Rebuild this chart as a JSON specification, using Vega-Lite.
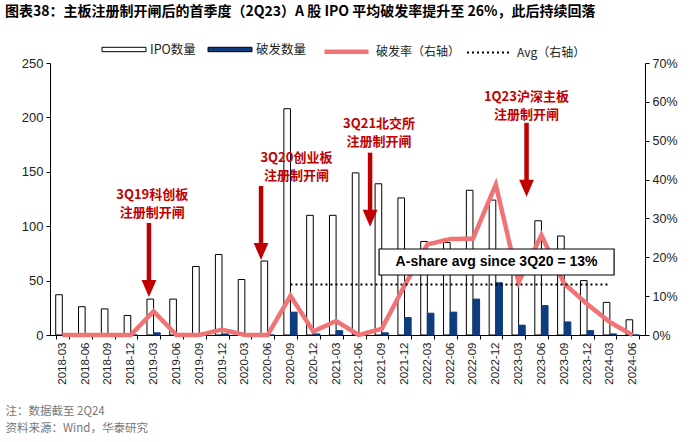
{
  "$schema": "https://vega.github.io/schema/vega-lite/v6.json",
  "width": 595,
  "height": 272,
  "autosize": {"type": "none"},
  "padding": {"left": 50, "top": 63, "right": 55, "bottom": 107},
  "background": "white",
  "config": {"view": {"stroke": null}, "font": "Liberation Sans"},
  "title": {
    "text": "图表38：主板注册制开闸后的首季度（2Q23）A 股 IPO 平均破发率提升至 26%，此后持续回落",
    "anchor": "start",
    "frame": "group",
    "dx": -45,
    "offset": 19,
    "font": "Noto Sans CJK SC",
    "fontSize": 14,
    "fontWeight": "bold",
    "color": "#000000"
  },
  "datasets": {
    "main": [
      {"q": "2018-03", "IPO数量": 37, "破发数量": 0, "破发率（右轴）": 0, "Avg（右轴）": null},
      {"q": "2018-06", "IPO数量": 26, "破发数量": 0, "破发率（右轴）": 0, "Avg（右轴）": null},
      {"q": "2018-09", "IPO数量": 24, "破发数量": 0, "破发率（右轴）": 0, "Avg（右轴）": null},
      {"q": "2018-12", "IPO数量": 18, "破发数量": 0, "破发率（右轴）": 0, "Avg（右轴）": null},
      {"q": "2019-03", "IPO数量": 33, "破发数量": 2, "破发率（右轴）": 6.1, "Avg（右轴）": null},
      {"q": "2019-06", "IPO数量": 33, "破发数量": 0, "破发率（右轴）": 0, "Avg（右轴）": null},
      {"q": "2019-09", "IPO数量": 63, "破发数量": 0, "破发率（右轴）": 0, "Avg（右轴）": null},
      {"q": "2019-12", "IPO数量": 74, "破发数量": 1, "破发率（右轴）": 1.4, "Avg（右轴）": null},
      {"q": "2020-03", "IPO数量": 51, "破发数量": 0, "破发率（右轴）": 0, "Avg（右轴）": null},
      {"q": "2020-06", "IPO数量": 68, "破发数量": 0, "破发率（右轴）": 0, "Avg（右轴）": null},
      {"q": "2020-09", "IPO数量": 208, "破发数量": 21, "破发率（右轴）": 10.1, "Avg（右轴）": 13},
      {"q": "2020-12", "IPO数量": 110, "破发数量": 1, "破发率（右轴）": 0.9, "Avg（右轴）": 13},
      {"q": "2021-03", "IPO数量": 110, "破发数量": 4, "破发率（右轴）": 3.6, "Avg（右轴）": 13},
      {"q": "2021-06", "IPO数量": 149, "破发数量": 0, "破发率（右轴）": 0, "Avg（右轴）": 13},
      {"q": "2021-09", "IPO数量": 139, "破发数量": 2, "破发率（右轴）": 1.6, "Avg（右轴）": 13},
      {"q": "2021-12", "IPO数量": 126, "破发数量": 16, "破发率（右轴）": 12.7, "Avg（右轴）": 13},
      {"q": "2022-03", "IPO数量": 86, "破发数量": 20, "破发率（右轴）": 23.3, "Avg（右轴）": 13},
      {"q": "2022-06", "IPO数量": 85, "破发数量": 21, "破发率（右轴）": 24.7, "Avg（右轴）": 13},
      {"q": "2022-09", "IPO数量": 133, "破发数量": 33, "破发率（右轴）": 24.8, "Avg（右轴）": 13},
      {"q": "2022-12", "IPO数量": 124, "破发数量": 48, "破发率（右轴）": 38.7, "Avg（右轴）": 13},
      {"q": "2023-03", "IPO数量": 66, "破发数量": 9, "破发率（右轴）": 13.6, "Avg（右轴）": 13},
      {"q": "2023-06", "IPO数量": 105, "破发数量": 27, "破发率（右轴）": 25.7, "Avg（右轴）": 13},
      {"q": "2023-09", "IPO数量": 91, "破发数量": 12, "破发率（右轴）": 13.2, "Avg（右轴）": 13},
      {"q": "2023-12", "IPO数量": 50, "破发数量": 4, "破发率（右轴）": 8.0, "Avg（右轴）": 13},
      {"q": "2024-03", "IPO数量": 30, "破发数量": 1, "破发率（右轴）": 3.3, "Avg（右轴）": 13},
      {"q": "2024-06", "IPO数量": 14, "破发数量": 0, "破发率（右轴）": 0, "Avg（右轴）": null}
    ],
    "arrows": [
      {"q": "2019-03", "f": 0.15, "from": 103, "to": 35},
      {"q": "2020-06", "f": 0.0, "from": 137, "to": 69},
      {"q": "2021-09", "f": -0.38, "from": 167.6, "to": 99.5},
      {"q": "2023-03", "f": 1.1, "from": 195, "to": 127}
    ],
    "notes": [
      {"q": "2019-03", "f": 0.4, "y": 128.7, "label": "3Q19科创板\n注册制开闸"},
      {"q": "2020-09", "f": 0.95, "y": 162.4, "label": "3Q20创业板\n注册制开闸"},
      {"q": "2021-09", "f": 0.3, "y": 194, "label": "3Q21北交所\n注册制开闸"},
      {"q": "2023-03", "f": 1.09, "y": 218.4, "label": "1Q23沪深主板\n注册制开闸"}
    ],
    "box": [
      {"q": "2022-12", "f": 0.56, "y": 67.1, "label": "A-share avg since 3Q20 = 13%"}
    ]
  },
  "layer": [
    {
      "data": {"name": "main"},
      "transform": [{"fold": ["IPO数量", "破发数量"], "as": ["series", "count"]}],
      "mark": {"type": "bar", "strokeWidth": 1},
      "encoding": {
        "x": {
          "field": "q",
          "type": "ordinal",
          "scale": {"paddingInner": 0.42, "paddingOuter": 0.25},
          "axis": {
            "title": ["注：数据截至 2Q24", "资料来源：Wind，华泰研究"],
            "titleAnchor": "start",
            "titleAlign": "left",
            "titleX": -45,
            "titleY": 70,
            "titleBaseline": "top",
            "titleFontSize": 11.5,
            "titleFontWeight": "normal",
            "titleColor": "#777777",
            "titleFont": "Noto Sans CJK SC",
            "titleLineHeight": 17,
            "labelAngle": -90,
            "labelFontSize": 11.5,
            "labelColor": "#222222",
            "labelFont": "Liberation Sans",
            "labelPadding": 3,
            "tickBand": "extent",
            "tickSize": 4,
            "tickColor": "#000000",
            "domainColor": "#000000",
            "grid": false
          }
        },
        "xOffset": {"field": "series", "type": "nominal", "scale": {"domain": ["IPO数量", "破发数量"]}},
        "y": {
          "field": "count",
          "type": "quantitative",
          "scale": {"domain": [0, 250], "nice": false},
          "axis": {
            "title": null,
            "values": [0, 50, 100, 150, 200, 250],
            "labelFontSize": 13,
            "labelColor": "#222222",
            "labelPadding": 3,
            "labelOverlap": false,
            "tickSize": 4,
            "tickColor": "#000000",
            "domainColor": "#000000",
            "grid": false
          }
        },
        "fill": {
          "field": "series",
          "type": "nominal",
          "scale": {"domain": ["IPO数量", "破发数量"], "range": ["#ffffff", "#0e3c7e"]},
          "legend": {
            "orient": "none",
            "legendX": 62.5,
            "legendY": -25,
            "direction": "horizontal",
            "title": null,
            "symbolType": "M-2,-0.2H2V0.2H-2Z",
            "symbolSize": 484,
            "symbolStrokeColor": "#000000",
            "symbolStrokeWidth": 1,
            "symbolOpacity": 1,
            "labelFontSize": 12.5,
            "labelFont": "Noto Sans CJK SC",
            "labelColor": "#222222",
            "labelOffset": 14.5,
            "columnPadding": 9
          }
        },
        "stroke": {"condition": {"test": "datum.series === 'IPO数量'", "value": "#000000"}, "value": "#0e3c7e"}
      }
    },
    {
      "data": {"name": "main"},
      "transform": [{"fold": ["破发率（右轴）", "Avg（右轴）"], "as": ["series2", "pct"]}],
      "mark": {"type": "line", "strokeJoin": "miter"},
      "encoding": {
        "x": {"field": "q", "type": "ordinal"},
        "y": {
          "field": "pct",
          "type": "quantitative",
          "scale": {"domain": [0, 70], "nice": false},
          "axis": {
            "orient": "right",
            "title": null,
            "values": [0, 10, 20, 30, 40, 50, 60, 70],
            "labelExpr": "datum.value + '%'",
            "labelFontSize": 12.5,
            "labelColor": "#222222",
            "labelPadding": 3,
            "labelOverlap": false,
            "labelFlush": false,
            "tickSize": 4,
            "tickColor": "#000000",
            "domainColor": "#000000",
            "grid": false
          }
        },
        "stroke": {
          "field": "series2",
          "type": "nominal",
          "scale": {"domain": ["破发率（右轴）", "Avg（右轴）"], "range": ["#f07475", "#000000"]},
          "legend": {
            "orient": "none",
            "legendX": 283,
            "legendY": -25,
            "direction": "horizontal",
            "title": null,
            "symbolType": "M-2,0H2",
            "symbolSize": 484,
            "symbolOpacity": 1,
            "labelFontSize": 12,
            "labelFont": "Noto Sans CJK SC",
            "labelColor": "#222222",
            "labelOffset": 16,
            "columnPadding": 2
          }
        },
        "strokeDash": {
          "field": "series2",
          "type": "nominal",
          "scale": {"domain": ["破发率（右轴）", "Avg（右轴）"], "range": [[1, 0], [2, 3]]},
          "legend": {
            "orient": "none",
            "legendX": 283,
            "legendY": -25,
            "direction": "horizontal",
            "title": null,
            "symbolType": "M-2,0H2",
            "symbolSize": 484,
            "symbolOpacity": 1,
            "labelFontSize": 12,
            "labelFont": "Noto Sans CJK SC",
            "labelColor": "#222222",
            "labelOffset": 16,
            "columnPadding": 2
          }
        },
        "strokeWidth": {
          "field": "series2",
          "type": "nominal",
          "scale": {"type": "ordinal", "domain": ["破发率（右轴）", "Avg（右轴）"], "range": [4.5, 2]},
          "legend": {
            "orient": "none",
            "legendX": 283,
            "legendY": -25,
            "direction": "horizontal",
            "title": null,
            "symbolType": "M-2,0H2",
            "symbolSize": 484,
            "symbolOpacity": 1,
            "labelFontSize": 12,
            "labelFont": "Noto Sans CJK SC",
            "labelColor": "#222222",
            "labelOffset": 16,
            "columnPadding": 2
          }
        }
      }
    },
    {
      "layer": [
        {
          "data": {"name": "arrows"},
          "mark": {"type": "rule", "color": "#c00000", "strokeWidth": 4.5, "y2Offset": -12},
          "encoding": {
            "x": {"field": "q", "type": "ordinal"},
            "xOffset": {"field": "f", "type": "quantitative", "scale": {"domain": [0, 1], "nice": false, "zero": false}},
            "y": {"field": "from", "type": "quantitative", "scale": {"domain": [0, 250], "nice": false}, "axis": null},
            "y2": {"field": "to"}
          }
        },
        {
          "data": {"name": "arrows"},
          "mark": {"type": "point", "shape": "M-0.87,-1L0.87,-1L0,1Z", "size": 289, "filled": true, "color": "#c00000", "opacity": 1, "yOffset": -8.5},
          "encoding": {
            "x": {"field": "q", "type": "ordinal"},
            "xOffset": {"field": "f", "type": "quantitative"},
            "y": {"field": "to", "type": "quantitative"}
          }
        },
        {
          "data": {"name": "notes"},
          "mark": {"type": "text", "font": "Noto Sans CJK SC", "fontWeight": "bold", "fontSize": 13, "color": "#c00000", "lineBreak": "\n", "lineHeight": 18, "align": "center", "baseline": "middle"},
          "encoding": {
            "x": {"field": "q", "type": "ordinal"},
            "xOffset": {"field": "f", "type": "quantitative"},
            "y": {"field": "y", "type": "quantitative"},
            "text": {"field": "label"}
          }
        },
        {
          "data": {"name": "box"},
          "mark": {"type": "point", "shape": "M-1,-0.1106H1V0.1106H-1Z", "size": 55225, "filled": true, "fill": "#ffffff", "stroke": "#000000", "strokeWidth": 1.2, "opacity": 1},
          "encoding": {
            "x": {"field": "q", "type": "ordinal"},
            "xOffset": {"field": "f", "type": "quantitative"},
            "y": {"field": "y", "type": "quantitative"}
          }
        },
        {
          "data": {"name": "box"},
          "mark": {"type": "text", "font": "Liberation Sans", "fontWeight": "bold", "fontSize": 14, "color": "#000000", "align": "center", "baseline": "middle"},
          "encoding": {
            "x": {"field": "q", "type": "ordinal"},
            "xOffset": {"field": "f", "type": "quantitative"},
            "y": {"field": "y", "type": "quantitative"},
            "text": {"field": "label"}
          }
        }
      ]
    }
  ],
  "resolve": {"scale": {"y": "independent", "xOffset": "independent"}}
}
